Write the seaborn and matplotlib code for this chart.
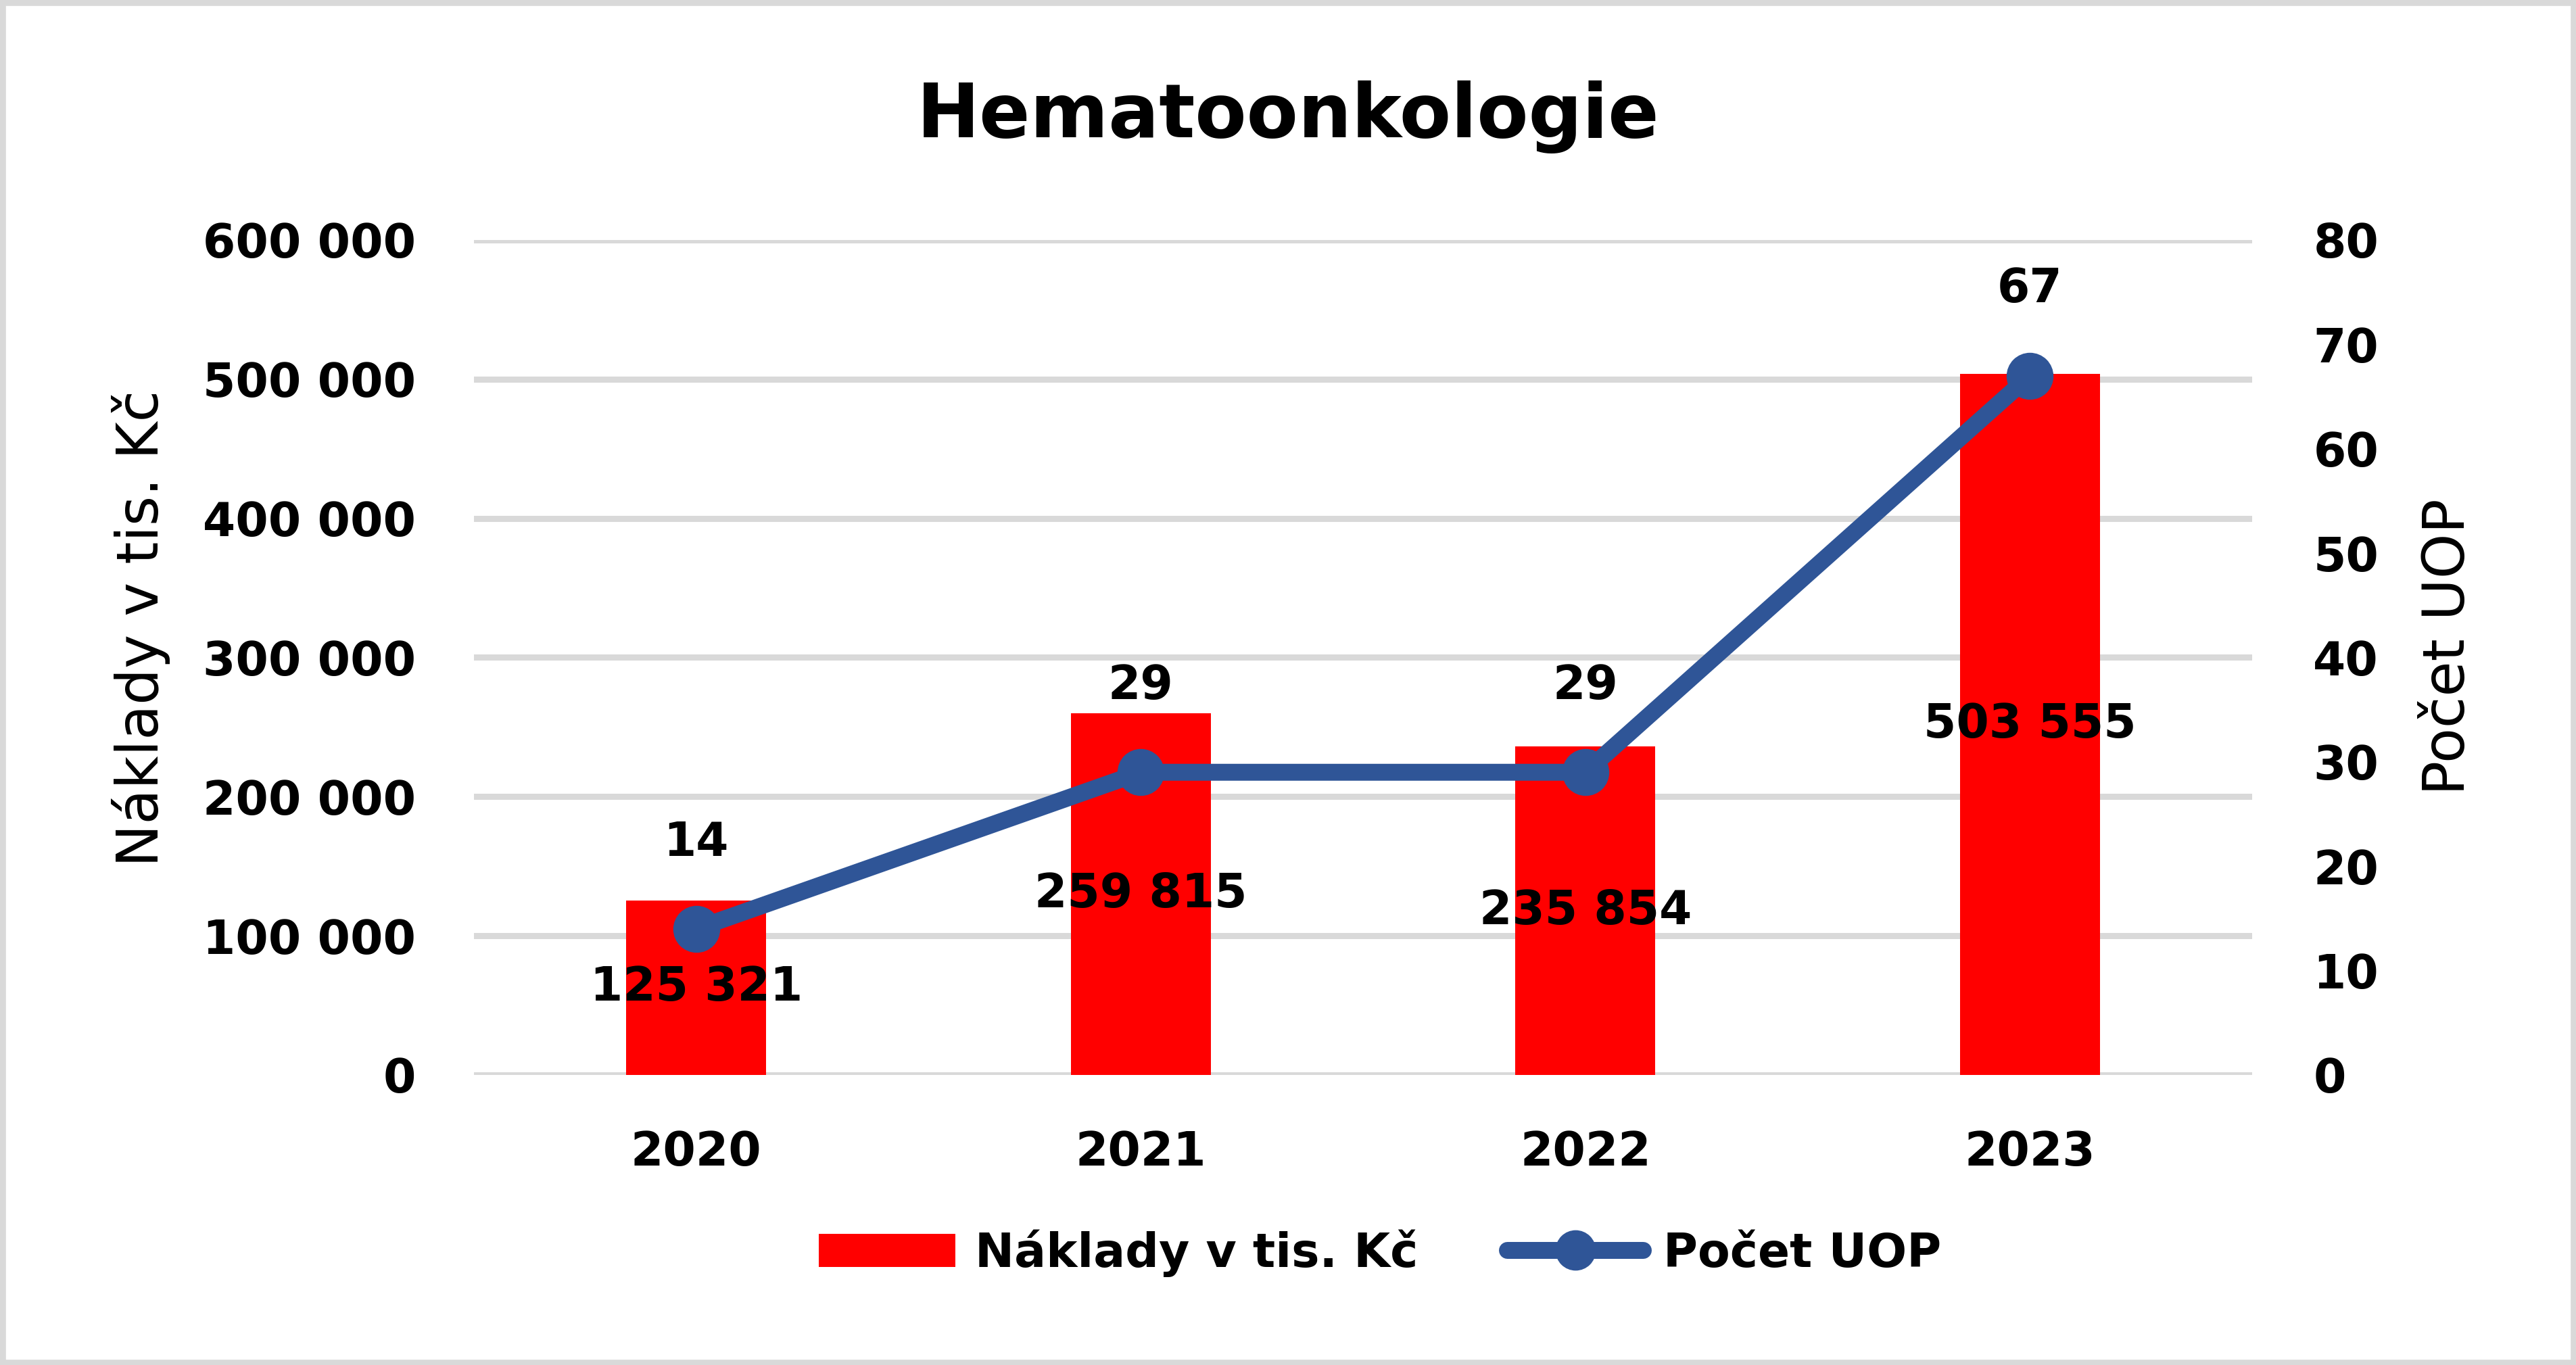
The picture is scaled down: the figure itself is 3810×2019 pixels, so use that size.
import matplotlib
matplotlib.use("Agg")
import matplotlib.pyplot as plt
import seaborn as sns
import numpy as np
import pandas as pd
from matplotlib.patches import Patch, Rectangle
from matplotlib.lines import Line2D
from matplotlib.ticker import FuncFormatter, MultipleLocator

# ---- data ----
years = ["2020", "2021", "2022", "2023"]
costs = [125321, 259815, 235854, 503555]      # Náklady v tis. Kč
counts = [14, 29, 29, 67]                      # Počet UOP
title = "Hematoonkologie"
cost_label = "Náklady v tis. Kč"
count_label = "Počet UOP"

BAR_COLOR = "#FF0000"
LINE_COLOR = "#2F5597"
GRID_COLOR = "#D9D9D9"

sns.set_theme(style="white")
plt.rcParams["font.family"] = ["DejaVu Sans"]
plt.rcParams["text.color"] = "black"
plt.rcParams["axes.labelcolor"] = "black"
plt.rcParams["xtick.color"] = "black"
plt.rcParams["ytick.color"] = "black"

def fmt_space(v, pos=None):
    return f"{v:,.0f}".replace(",", " ")

df = pd.DataFrame({"year": years, "cost": costs, "count": counts})

fig = plt.figure(figsize=(38.1, 20.19), dpi=100)
fig.patch.set_facecolor("white")
ax = fig.add_axes([0.184, 0.2125, 0.6903, 0.6117])

sns.barplot(data=df, x="year", y="cost", ax=ax, color=BAR_COLOR,
            saturation=1, width=0.315, linewidth=0, edgecolor="none")
ax.set_ylim(0, 600000)
ax.set_xlim(-0.5, 3.5)
ax.yaxis.set_major_locator(MultipleLocator(100000))
ax.yaxis.set_major_formatter(FuncFormatter(fmt_space))
ax.grid(axis="y", color=GRID_COLOR, linewidth=6.5)
ax.grid(axis="x", visible=False)
ax.set_axisbelow(True)
for s in ax.spines.values():
    s.set_visible(False)
ax.set_xlabel("")
ax.set_ylabel("")
ax.tick_params(axis="y", length=0, pad=62, labelsize=50, labelcolor="black")
ax.tick_params(axis="x", length=0, pad=58, labelsize=50, labelcolor="black")
for lab in ax.get_xticklabels() + ax.get_yticklabels():
    lab.set_fontweight("bold")

ax.bar_label(ax.containers[0], labels=[fmt_space(v) for v in costs],
             label_type="center", fontsize=50, fontweight="bold", color="black")

ax2 = ax.twinx()
sns.lineplot(x=np.arange(len(counts)), y=counts, ax=ax2, color=LINE_COLOR,
             linewidth=18, marker="o", markersize=50, markeredgewidth=0)
ax2.set_ylim(0, 80)
ax2.yaxis.set_major_locator(MultipleLocator(10))
for s in ax2.spines.values():
    s.set_visible(False)
ax2.grid(False)
ax2.set_ylabel("")
ax2.tick_params(axis="y", length=0, pad=65, labelsize=50, labelcolor="black")
for lab in ax2.get_yticklabels():
    lab.set_fontweight("bold")
for i, v in enumerate(counts):
    ax2.annotate(str(v), (i, v), xytext=(0, 78), textcoords="offset points",
                 ha="center", va="baseline", fontsize=50, fontweight="bold",
                 color="black")

# title and axis labels
fig.text(0.5, 1 - 203 / 2019, title, ha="center", va="baseline",
         fontsize=80, fontweight="bold", color="black")
fig.text(209 / 3810, 1 - 929 / 2019, cost_label, rotation=90,
         ha="center", va="center", fontsize=61, color="black")
fig.text(3622 / 3810, 1 - 957 / 2019, count_label, rotation=90,
         ha="center", va="center", fontsize=61, color="black")

# legend
handles = [Patch(facecolor=BAR_COLOR, edgecolor="none", label=cost_label),
           Line2D([0], [0], color=LINE_COLOR, linewidth=18, marker="o",
                  markersize=42, label=count_label)]
fig.legend(handles=handles, loc="center", bbox_to_anchor=(0.5357, 0.082),
           ncol=2, frameon=False, prop={"size": 50, "weight": "bold"},
           handlelength=2.9, handleheight=0.7, handletextpad=0.42,
           columnspacing=1.9, labelcolor="black")

# outer border
fig.patches.append(Rectangle((0, 0), 1, 1, transform=fig.transFigure,
                             fill=False, edgecolor=GRID_COLOR, linewidth=12))

fig.savefig("out.png", dpi=100, facecolor="white")
